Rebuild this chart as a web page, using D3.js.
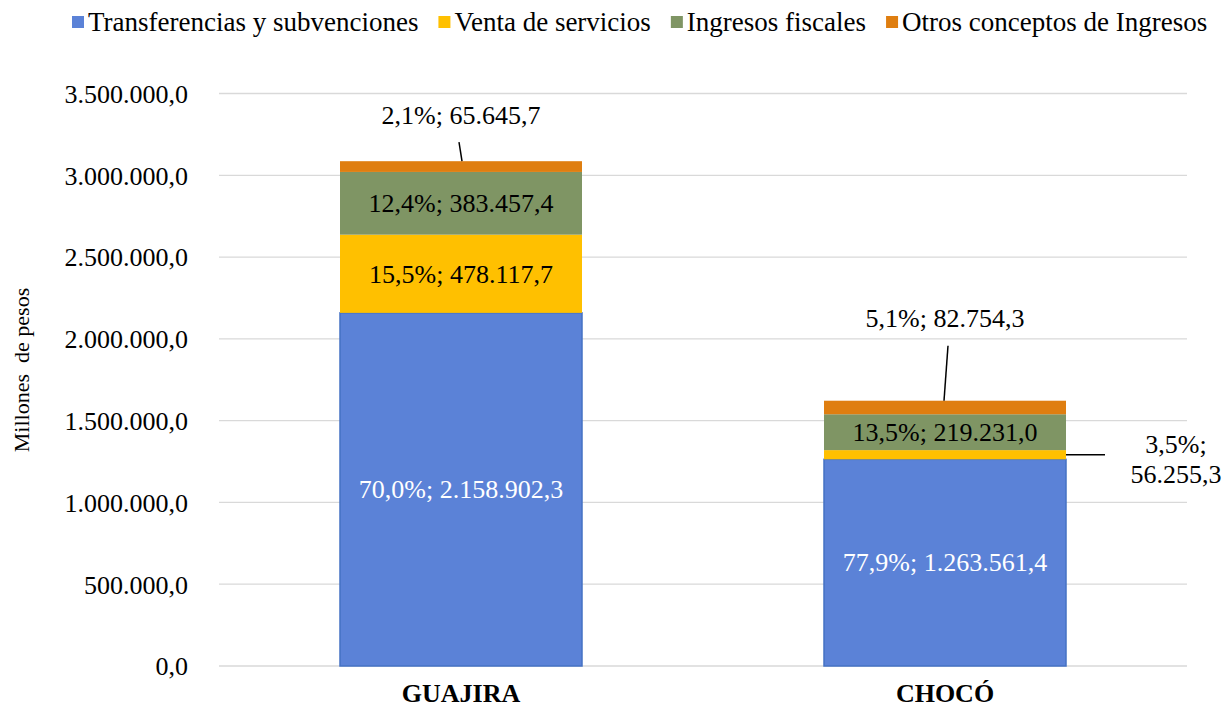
<!DOCTYPE html>
<html><head><meta charset="utf-8">
<script src="https://cdn.jsdelivr.net/npm/d3@7"></script>
<style>
body{margin:0;background:#fff}
svg{display:block}
text{font-family:"Liberation Serif","Times New Roman",serif}
</style>
</head><body>
<svg id="c" width="1225" height="708"></svg>
<script>
const categories = ["GUAJIRA", "CHOCÓ"];
const seriesNames = ["Transferencias y subvenciones", "Venta de servicios", "Ingresos fiscales", "Otros conceptos de Ingresos"];
const transferencias = [2158902.3, 1263561.4];
const ventaServicios = [478117.7, 56255.3];
const ingresosFiscales = [383457.4, 219231.0];
const otrosConceptos = [65645.7, 82754.3];
const pctTransferencias = ["70,0%", "77,9%"];
const pctVenta = ["15,5%", "3,5%"];
const pctFiscales = ["12,4%", "13,5%"];
const pctOtros = ["2,1%", "5,1%"];
const yTicks = [0, 500000, 1000000, 1500000, 2000000, 2500000, 3000000, 3500000];
const colors = ["#5B82D7", "#FFC000", "#7F9564", "#DF7E10"];

const seriesValues = [transferencias, ventaServicios, ingresosFiscales, otrosConceptos];
const seriesPct = [pctTransferencias, pctVenta, pctFiscales, pctOtros];

const loc = d3.formatLocale({decimal: ",", thousands: ".", grouping: [3], currency: ["", ""]});
const fmt = loc.format(",.1f");

const svg = d3.select("#c");
const mLeft = 219, mRight = 1187, mTop = 93.5, mBottom = 666;

const x = d3.scaleBand().domain(categories).range([mLeft, mRight]).paddingInner(0.5).paddingOuter(0.25);
const y = d3.scaleLinear().domain([0, 3500000]).range([mBottom, mTop]);

// gridlines
svg.append("g").selectAll("line").data(yTicks).join("line")
  .attr("x1", mLeft).attr("x2", mRight)
  .attr("y1", d => y(d)).attr("y2", d => y(d))
  .attr("stroke", "#D9D9D9").attr("stroke-width", 1.3);

// y axis labels
const yAxis = d3.axisLeft(y).tickValues(yTicks).tickFormat(fmt).tickSize(0).tickPadding(0);
const ga = svg.append("g").attr("transform", `translate(188,0)`).call(yAxis);
ga.select(".domain").remove();
ga.selectAll("text").attr("font-size", 26).attr("fill", "#000")
  .attr("font-family", '"Liberation Serif","Times New Roman",serif').attr("dy", "0.34em");

// x axis labels
const xAxis = d3.axisBottom(x).tickSize(0).tickPadding(0);
const gx = svg.append("g").attr("transform", `translate(0,${mBottom})`).call(xAxis);
gx.select(".domain").remove();
gx.selectAll("text").attr("font-size", 26).attr("font-weight", "bold").attr("fill", "#000")
  .attr("font-family", '"Liberation Serif","Times New Roman",serif').attr("dy", "1.37em");

// stack
const rows = categories.map((c, i) => {
  const o = {cat: c};
  seriesNames.forEach((s, k) => o[s] = seriesValues[k][i]);
  return o;
});
const stack = d3.stack().keys(seriesNames)(rows);

const gBars = svg.append("g");
stack.forEach((layer, k) => {
  gBars.append("g").selectAll("rect").data(layer).join("rect")
    .attr("x", d => x(d.data.cat))
    .attr("width", x.bandwidth())
    .attr("y", d => y(d[1]))
    .attr("height", d => y(d[0]) - y(d[1]))
    .attr("fill", colors[k])
    .attr("stroke", k === 0 ? "#4472C4" : "none")
    .attr("stroke-width", k === 0 ? 1.5 : 0);
});

// labels
const gl = svg.append("g").attr("font-size", 26);
stack.forEach((layer, k) => {
  layer.forEach((d, i) => {
    const txt = seriesPct[k][i] + "; " + fmt(seriesValues[k][i]);
    const cx = x(d.data.cat) + x.bandwidth() / 2;
    const cy = (y(d[0]) + y(d[1])) / 2;
    if (k === 3) {
      const topY = y(d[1]);
      const ly = topY - (i === 0 ? 46 : 83);
      gl.append("text").attr("x", cx).attr("y", ly).attr("text-anchor", "middle")
        .attr("dy", "0.34em").attr("fill", "#000").text(txt);
      gl.append("line")
        .attr("x1", cx + (i === 0 ? -2 : 3)).attr("y1", ly + (i === 0 ? 27 : 28))
        .attr("x2", cx + (i === 0 ? 1 : -1)).attr("y2", topY)
        .attr("stroke", "#000").attr("stroke-width", 1.5);
    } else if (k === 1 && i === 1) {
      const bx = x(d.data.cat) + x.bandwidth();
      gl.append("line").attr("x1", bx).attr("x2", bx + 39).attr("y1", cy).attr("y2", cy)
        .attr("stroke", "#000").attr("stroke-width", 1.5);
      const t = gl.append("text").attr("text-anchor", "middle").attr("fill", "#000");
      t.append("tspan").attr("x", bx + 110).attr("y", cy - 11).attr("dy", "0.34em").text(seriesPct[k][i] + ";");
      t.append("tspan").attr("x", bx + 110).attr("y", cy + 19).attr("dy", "0.34em").text(fmt(seriesValues[k][i]));
    } else {
      gl.append("text").attr("x", cx).attr("y", cy).attr("text-anchor", "middle")
        .attr("dy", "0.34em").attr("fill", k === 0 ? "#fff" : "#000").text(txt);
    }
  });
});

// y axis title
svg.append("text").attr("transform", "translate(29,370) rotate(-90)")
  .attr("text-anchor", "middle").attr("font-size", 22).attr("fill", "#000")
  .style("white-space", "pre")
  .text("Millones  de pesos");

// legend
const lg = svg.append("g").attr("font-size", 27);
let lx = 72;
const legY = 22;
seriesNames.forEach((s, k) => {
  lg.append("rect").attr("x", lx).attr("y", legY - 6).attr("width", 12).attr("height", 12).attr("fill", colors[k]);
  const t = lg.append("text").attr("x", lx + 16).attr("y", legY).attr("dy", "0.34em").attr("fill", "#000").text(s);
  const w = t.node().getComputedTextLength();
  lx += 16 + w + 20;
});
</script>
</body></html>
